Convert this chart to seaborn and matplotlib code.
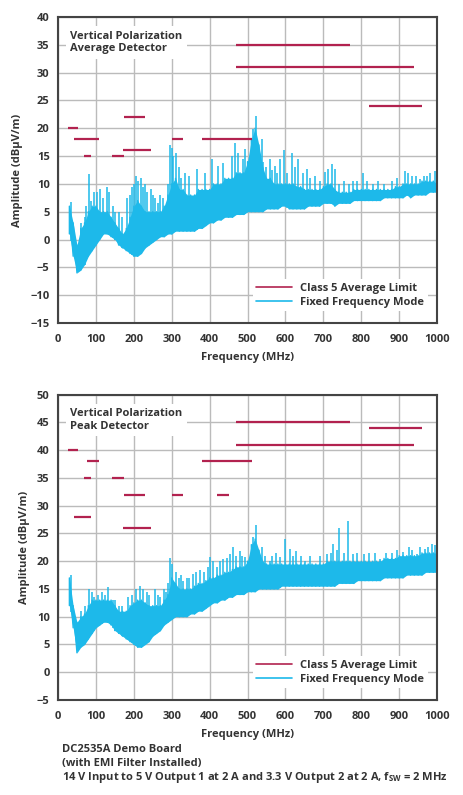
import numpy as np
import pandas as pd
import seaborn as sns
import matplotlib.pyplot as plt
from matplotlib.lines import Line2D

# envelope frequencies (MHz), 30..1000 every 10 MHz
freq = [30, 40, 50, 60, 70, 80, 90, 100, 110, 120, 130, 140, 150, 160, 170, 180, 190, 200,
        210, 220, 230, 240, 250, 260, 270, 280, 290, 300, 310, 320, 330, 340, 350, 360, 370,
        380, 390, 400, 410, 420, 430, 440, 450, 460, 470, 480, 490, 500, 510, 520, 530, 540,
        550, 560, 570, 580, 590, 600, 610, 620, 630, 640, 650, 660, 670, 680, 690, 700, 710,
        720, 730, 740, 750, 760, 770, 780, 790, 800, 810, 820, 830, 840, 850, 860, 870, 880,
        890, 900, 910, 920, 930, 940, 950, 960, 970, 980, 990, 1000]

# average detector - band bottom / top
avg_low = [1, -3, -6, -5.5, -4.5, -3, -2, -1, 0, 1, 1, 0.5, 0, -1, -1.5, -2, -2.5, -3,
           -3, -2.5, -1.5, -1, -0.5, 0, 0.5, 0.5, 1, 1, 1.5, 1.5, 1.5, 1.5, 1.5, 1.5, 2,
           2, 2.5, 3, 3, 3.5, 3.5, 4, 4, 4, 4.5, 4.5, 4.5, 5, 5, 5, 5, 5,
           5.5, 5.5, 5.5, 5.5, 6, 6, 5.5, 5.5, 5.5, 5.5, 5.5, 6, 6, 6, 6, 6.5, 6.5,
           6.5, 6, 6.5, 6.5, 6.5, 6.5, 7, 7, 7, 7, 7, 7, 7, 7, 7.5, 7.5, 7.5,
           7.5, 7.5, 7.5, 8, 7.5, 8, 8, 8, 8, 8.5, 8.5, 8.5]
avg_high = [6, 3, -1, 2, 3, 5, 6, 6, 5, 5, 5, 4, 3, 2, 1, 2, 4, 6,
            7, 6, 5, 5, 5, 5, 5, 6, 8, 10, 11, 9, 9, 8, 8, 8, 9,
            9, 9, 9, 10, 10, 10, 11, 11, 11, 12, 12, 12, 14, 18, 20, 17, 13,
            11, 11, 10, 10, 10, 10, 10, 10, 9.5, 9.5, 9, 9, 9, 9, 9, 9.5, 10,
            10, 9, 8.5, 8.5, 8.5, 8.5, 9, 9, 9, 9, 9, 9, 9, 9, 9, 9, 9,
            9.5, 9.5, 10, 10, 10, 10, 10, 10.5, 10.5, 10.5, 10.5, 10]
avg_spike_f = [33, 60, 70, 75, 83, 88, 95, 103, 112, 120, 128, 135, 145, 150, 160, 170, 183,
               190, 195, 200, 206, 212, 218, 225, 230, 236, 245, 250, 255, 265, 270, 278, 290,
               296, 300, 304, 310, 318, 325, 335, 345, 366, 388, 405, 423, 436, 458, 467, 476,
               489, 493, 515, 522, 537, 540, 548, 559, 565, 572, 578, 585, 595, 605, 616, 625,
               634, 645, 656, 665, 678, 690, 705, 713, 722, 731, 740, 755, 768, 779, 790, 804,
               815, 832, 845, 860, 880, 895, 915, 924, 935, 945, 955, 965, 973, 982, 995]
avg_spike_v = [6.8, 3, 4, 6, 11.7, 7, 8.5, 8.5, 9, 7.5, 9.5, 8.5, 6, 5, 5, 4, 7.5,
               8, 9.5, 10, 11.5, 10.5, 11, 9.5, 10, 8.5, 9, 8, 7.5, 6.5, 8, 7.5, 10,
               17, 16.5, 15, 15.5, 13, 11, 12, 11.5, 12.6, 12, 14.4, 13.2, 13.8, 15, 17.4, 15.6,
               14.4, 16.2, 19.8, 22.2, 18, 14, 13, 14.4, 12.5, 13.2, 12, 14.4, 16, 12, 15.6, 13,
               14.4, 12, 12.6, 11, 11.4, 10.5, 12.1, 12.7, 13.5, 12.6, 10, 10.5, 10, 10.5, 10.5, 12,
               10.5, 9.9, 10.5, 10, 10.5, 11, 12.3, 12, 11.5, 11.5, 10.8, 11.5, 11.4, 12, 12.3]

# peak detector - band bottom / top
pk_low = [12, 8, 3.5, 4.5, 5, 6, 7, 8, 8.5, 9, 9, 8.5, 7.5, 7, 6.5, 6, 5.5, 5,
          4.5, 4.5, 5, 5.5, 6.5, 7, 7.5, 8.5, 9, 9.5, 10, 10, 10, 10, 10.5, 10.5, 11,
          11, 11.5, 12, 12.5, 12.5, 13, 13, 13.5, 13.5, 14, 14, 14, 14.5, 14.5, 14.5, 15, 15,
          15, 15, 15, 15, 15.5, 15.5, 15.5, 15.5, 15.5, 15.5, 15.5, 15.5, 15.5, 15.5, 15.5, 15.5, 15.5,
          15.5, 15.5, 16, 16, 16, 16, 16, 16.5, 16.5, 16.5, 16.5, 16.5, 16.5, 16.5, 17, 17, 17,
          17, 17, 17, 17.5, 17.5, 17.5, 17.5, 17.5, 18, 18, 18, 18]
pk_high = [17, 12, 9, 10, 10.5, 12, 13, 13, 13, 13, 13, 13, 12, 11, 11, 11, 12, 12.5,
           13, 13, 12.5, 12, 12, 12, 12, 13, 14, 17, 16, 15, 15, 15, 15, 15.5, 16,
           16, 16.5, 17, 17, 17.5, 17.5, 18, 18, 18.5, 19, 19, 19, 20, 23, 24, 22, 20,
           19.5, 19.5, 19.5, 19.5, 19.5, 19.5, 19.5, 19.5, 19.5, 19.5, 19.5, 19.5, 19.5, 19.5, 19.5, 19.5, 20,
           20, 20, 20, 20, 20, 20, 20, 20, 20, 20, 20, 20, 20, 20, 20.5, 20.5, 20.5,
           20.5, 21, 21, 21, 21, 21, 21, 21.5, 21.5, 21.5, 21.5, 21.5]
pk_spike_f = [33, 60, 70, 82, 90, 95, 105, 115, 125, 133, 145, 150, 160, 170, 185, 195, 205,
              215, 225, 235, 240, 255, 265, 270, 280, 285, 290, 296, 302, 310, 318, 325, 330,
              340, 345, 357, 365, 375, 384, 395, 401, 410, 419, 428, 436, 445, 454, 462, 470,
              480, 485, 493, 515, 522, 537, 545, 559, 565, 575, 585, 599, 612, 620, 629, 640,
              651, 665, 690, 709, 720, 726, 735, 742, 755, 766, 779, 790, 806, 820, 835, 850,
              865, 880, 895, 911, 925, 935, 946, 955, 968, 975, 986, 995]
pk_spike_v = [17.5, 11, 12, 15, 14.5, 13.5, 14, 14.5, 14, 15.3, 13, 13, 12, 12, 13.5, 14, 15,
              15.5, 15, 14.5, 14, 15, 14, 13.5, 15, 14.5, 16, 20.5, 19.5, 18, 17, 17.5, 16.5,
              17, 17, 17.7, 18, 18.5, 18, 19, 20.7, 20, 18.9, 20, 20.4, 20.5, 21.3, 22.5, 21,
              21.9, 21, 20.7, 24.3, 26.6, 22.5, 21, 20.1, 21, 21.5, 20.7, 24, 22.2, 21, 21.9, 21,
              20.1, 21, 21, 21.3, 21.5, 23.1, 22, 26, 21.5, 27.3, 21.3, 21.5, 21.3, 21.5, 21.5, 20.4,
              21.5, 21.5, 22, 21.6, 22.5, 22, 21.3, 22.5, 22.2, 22.5, 23.1, 23]

# Class 5 limit segments: start MHz, stop MHz, level dBuV/m
avg_lim_start = [26, 41, 68, 143, 174, 171, 300, 380, 470, 470, 820]
avg_lim_stop = [54, 108, 87, 175, 230, 245, 330, 512, 770, 940, 960]
avg_lim_level = [20, 18, 15, 15, 22, 16, 18, 18, 35, 31, 24]

pk_lim_start = [26, 77, 68, 143, 174, 300, 420, 41, 171, 380, 470, 820, 470]
pk_lim_stop = [54, 108, 87, 175, 230, 330, 450, 88, 245, 512, 770, 960, 940]
pk_lim_level = [40, 38, 35, 35, 32, 32, 32, 28, 26, 38, 45, 44, 41]

BLUE = '#1DB9EA'
RED = '#B2224F'
DARK = '#333333'
FS = 8

sns.set_style('whitegrid', {'grid.color': '#BBBBBB', 'axes.edgecolor': '#444444'})
plt.rcParams['font.family'] = ['Open Sans', 'DejaVu Sans']
plt.rcParams['font.weight'] = 'bold'
plt.rcParams['mathtext.default'] = 'regular'

fig = plt.figure(figsize=(4.64, 7.95), dpi=100)
ax1 = fig.add_axes([0.125, 0.5937, 0.817, 0.385])
ax2 = fig.add_axes([0.125, 0.1195, 0.817, 0.384])


def draw(ax, low, high, sp_f, sp_v, l_start, l_stop, l_level, ylim, title):
    # zigzag trace between band bottom and top
    zz_f, zz_a = [], []
    for f, lo, hi in zip(freq, low, high):
        zz_f += [f, f]
        zz_a += [lo, hi]
    df = pd.DataFrame({'f': zz_f, 'amp': zz_a})
    sns.lineplot(data=df, x='f', y='amp', sort=False, estimator=None,
                 color=BLUE, lw=1.0, ax=ax)
    ax.fill_between(freq, low, high, color=BLUE, lw=0)
    base = np.interp(sp_f, freq, low)
    ax.vlines(sp_f, base, sp_v, color=BLUE, lw=1.1)
    ax.hlines(l_level, l_start, l_stop, color=RED, lw=1.6)

    ax.set_xlim(0, 1000)
    ax.set_ylim(*ylim)
    ax.set_xticks(range(0, 1001, 100))
    ax.set_yticks(range(ylim[0], ylim[1] + 1, 5))
    ax.grid(True, color='#BBBBBB', lw=1.0)
    ax.tick_params(length=0, labelsize=FS, colors=DARK, pad=6)
    ax.tick_params(axis='x', pad=8)
    for s in ax.spines.values():
        s.set_color('#444444')
        s.set_linewidth(1.5)
    ax.set_xlabel('Frequency (MHz)', fontsize=FS, color=DARK, fontweight='bold', labelpad=5)
    ax.set_ylabel('Amplitude (dBµV/m)', fontsize=FS, color=DARK, fontweight='bold', labelpad=5)
    ax.text(0.032, 0.955, title, transform=ax.transAxes, va='top', ha='left',
            fontsize=FS, color=DARK, fontweight='bold', linespacing=1.2,
            bbox=dict(fc='white', ec='none', pad=3))
    handles = [Line2D([], [], color=RED, lw=1.2), Line2D([], [], color=BLUE, lw=1.2)]
    leg = ax.legend(handles, ['Class 5 Average Limit', 'Fixed Frequency Mode'],
                    loc='lower right', fontsize=FS, frameon=True, framealpha=1,
                    edgecolor='none', handlelength=3.2, borderpad=0.3,
                    labelspacing=0.3, bbox_to_anchor=(0.99, 0.02))
    leg.get_frame().set_linewidth(0)
    for t in leg.get_texts():
        t.set_color(DARK)


draw(ax1, avg_low, avg_high, avg_spike_f, avg_spike_v,
     avg_lim_start, avg_lim_stop, avg_lim_level, (-15, 40),
     'Vertical Polarization\nAverage Detector')
draw(ax2, pk_low, pk_high, pk_spike_f, pk_spike_v,
     pk_lim_start, pk_lim_stop, pk_lim_level, (-5, 50),
     'Vertical Polarization\nPeak Detector')

notes = ['DC2535A Demo Board',
         '(with EMI Filter Installed)',
         r'14 V Input to 5 V Output 1 at 2 A and 3.3 V Output 2 at 2 A, f$_{SW}$ = 2 MHz']
for i, line in enumerate(notes):
    fig.text(0.133, 1 - (749 + 14.3 * i) / 795, line, fontsize=FS, color=DARK,
             fontweight='bold', va='center', ha='left')

fig.savefig('out.png', dpi=100, facecolor='white')
